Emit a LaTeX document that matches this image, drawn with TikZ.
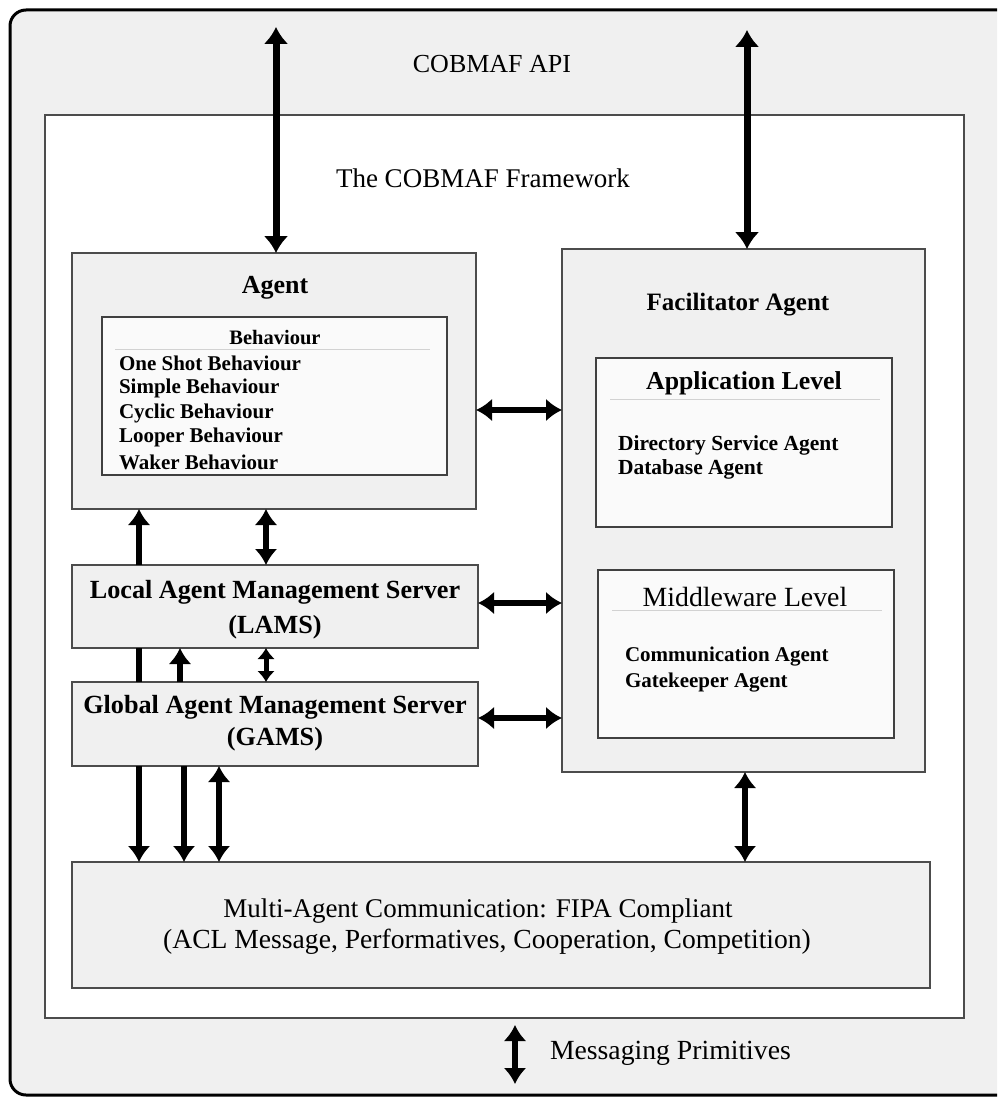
\documentclass[tikz,border=0pt]{standalone}
\usepackage{fontspec}
\setmainfont{Liberation Serif}
\usetikzlibrary{arrows.meta}

\definecolor{panelgray}{RGB}{240,240,240}
\definecolor{insetwhite}{RGB}{250,250,250}
\definecolor{rulegray}{RGB}{210,210,210}

\newcommand{\fs}[1]{\fontsize{#1}{#1}\selectfont}

\begin{document}
\begin{tikzpicture}[x=1pt,y=-1pt,
  every node/.style={inner sep=0pt, outer sep=0pt},
  frame/.style={draw=black, line width=3pt, fill=panelgray, rounded corners=16pt},
  core/.style={draw=black!70, line width=1.4pt, fill=white},
  panel/.style={draw=black!70, line width=1.6pt, fill=panelgray},
  inset/.style={draw=black!75, line width=1.6pt, fill=insetwhite},
  sep/.style={draw=rulegray, line width=1pt},
  bigtip/.tip={Latex[width=25pt,length=17pt]},
  midtip/.tip={Latex[width=23pt,length=16pt]},
  smalltip/.tip={Latex[width=18pt,length=11pt]},
  apilink/.style={line width=7pt, bigtip-bigtip},
  dlink/.style={line width=6pt, midtip-midtip},
  ulink/.style={line width=6pt, -midtip},
  slink/.style={line width=5pt, smalltip-smalltip},
  plain/.style={line width=6pt},
  title/.style={font=\fs{26}},
  btitle/.style={font=\bfseries\fs{25}},
  item/.style={font=\bfseries\fs{21}, anchor=west},
  server/.style={font=\bfseries\fs{26.2}},
  comm/.style={font=\fs{27}}
]
\useasboundingbox (0,0) rectangle (997,1097);
\fill[white] (0,0) rectangle (997,1097);
\begin{scope}
\clip (0,0) rectangle (997,1097);
% outer API frame, running past the right edge
\draw[frame] (10,10) rectangle (1080,1095);
\end{scope}
\coordinate (api) at (10,10);

% the framework area
\node[core, minimum width=919pt, minimum height=903pt] (fw) at (504.5,566.5) {};

\node[title] (apitext) at (492,64) {COBMAF API};
\node[title, font=\fs{27}] (fwtext) at (483,178) {The COBMAF Framework};

% agent with its behaviours
\node[panel, minimum width=404pt, minimum height=256pt] (agent) at (274,381) {};
\node[btitle, font=\bfseries\fs{26}] (agenttext) at (275,288) {Agent};
\node[inset, minimum width=345pt, minimum height=158pt] (behav) at (274.5,396) {};
\node[font=\bfseries\fs{20.5}] (behavtext) at (275,338) {Behaviour};
\draw[sep] (115,349) -- (430,349);
\node[item] (b1) at (119,363) {One Shot Behaviour};
\node[item] (b2) at (119,388) {Simple Behaviour};
\node[item] (b3) at (119,413) {Cyclic Behaviour};
\node[item] (b4) at (119,437) {Looper Behaviour};
\node[item] (b5) at (119,462) {Waker Behaviour};

% facilitator agent with its two levels
\node[panel, minimum width=363pt, minimum height=523pt] (facil) at (743.5,510.5) {};
\node[btitle] (faciltext) at (738,305) {Facilitator Agent};
\node[inset, minimum width=296pt, minimum height=169pt] (applvl) at (744,442.5) {};
\node[btitle, font=\bfseries\fs{25.8}] (appltext) at (744,383) {Application Level};
\draw[sep] (610,399) -- (880,399);
\node[item, font=\bfseries\fs{21.5}] (a1) at (618,445) {Directory Service Agent};
\node[item, font=\bfseries\fs{21.5}] (a2) at (618,469) {Database Agent};
\node[inset, minimum width=296pt, minimum height=168pt] (midlvl) at (746,654) {};
\node[title, font=\fs{27.8}] (midtext) at (745,597) {Middleware Level};
\draw[sep] (612,610) -- (882,610);
\node[item] (m1) at (625,657) {Communication Agent};
\node[item] (m2) at (625,683) {Gatekeeper Agent};

% management servers
\node[panel, minimum width=406pt, minimum height=83pt] (lams) at (275,606.5) {};
\node[server] (lams1) at (275,592) {Local Agent Management Server};
\node[server] (lams2) at (275,627) {(LAMS)};
\node[panel, minimum width=406pt, minimum height=84pt] (gams) at (275,724) {};
\node[server] (gams1) at (275,707) {Global Agent Management Server};
\node[server] (gams2) at (275,739) {(GAMS)};

% communication layer
\node[panel, minimum width=858pt, minimum height=126pt] (mac) at (501,925) {};
\node[comm] (mac1) at (478,911) {Multi-Agent Communication: FIPA Compliant};
\node[comm, font=\fs{27.6}] (mac2) at (487,942) {(ACL Message, Performatives, Cooperation, Competition)};

\node[font=\fs{27.7}, anchor=west] (msgtext) at (550,1053) {Messaging Primitives};

% connectors
\coordinate (apiA) at (276,27);
\coordinate (apiB) at (747,30);
\draw[apilink] (apiA) -- (apiA |- agent.north);
\draw[apilink] (apiB) -- (apiB |- facil.north);

\coordinate (r1) at (0,410);
\coordinate (r2) at (0,603);
\coordinate (r3) at (0,718);
\draw[dlink] (agent.east |- r1) -- (facil.west |- r1);
\draw[dlink] (lams.east |- r2) -- (facil.west |- r2);
\draw[dlink] (gams.east |- r3) -- (facil.west |- r3);

\coordinate (c139) at (139,0);
\coordinate (c181) at (180,0);
\coordinate (c184) at (184,0);
\coordinate (c219) at (219,0);
\coordinate (c266) at (266,0);
\coordinate (c745) at (745,0);
\draw[ulink] (c139 |- lams.north) -- (c139 |- agent.south);
\draw[dlink] (c266 |- agent.south) -- (c266 |- lams.north);
\draw[plain] (c139 |- lams.south) -- (c139 |- gams.north);
\draw[ulink] (c181 |- gams.north) -- (c181 |- lams.south);
\draw[slink] (c266 |- lams.south) -- (c266 |- gams.north);
\draw[ulink] (c139 |- gams.south) -- (c139 |- mac.north);
\draw[ulink] (c184 |- gams.south) -- (c184 |- mac.north);
\draw[dlink] (c219 |- gams.south) -- (c219 |- mac.north);
\draw[dlink] (c745 |- facil.south) -- (c745 |- mac.north);

\coordinate (msgA) at (515,1025);
\coordinate (msgB) at (515,1084);
\draw[dlink] (msgA) -- (msgB);
\end{tikzpicture}
\end{document}
